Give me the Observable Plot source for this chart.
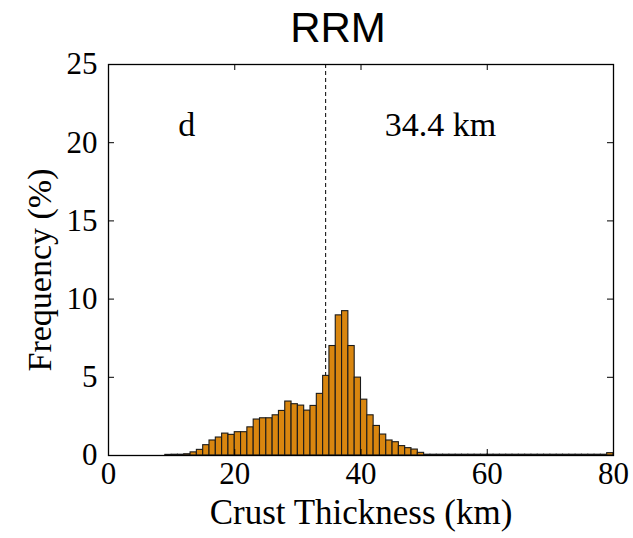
<!DOCTYPE html>
<html>
<head>
<meta charset="utf-8">
<script src="https://cdn.jsdelivr.net/npm/d3@7"></script>
<script src="https://cdn.jsdelivr.net/npm/@observablehq/plot@0.6"></script>
<style>
  html, body { margin: 0; padding: 0; background: #fff; }
  #wrap { position: relative; width: 633px; height: 538px; }
  #title { position: absolute; top: 3px; left: 0; width: 633px; padding-left: 43px; box-sizing: border-box;
           text-align: center; font-family: "Liberation Sans", Arial, sans-serif; font-size: 42px; color: #000; line-height: 50px; }
</style>
</head>
<body>
<div id="wrap"><div id="title">RRM</div></div>
<script>
// Bin left edges (km), bin width 1 km
const thickness = [9,10,11,12,13,14,15,16,17,18,19,20,21,22,23,24,25,26,27,28,29,30,31,32,33,34,35,36,37,38,39,40,41,42,43,44,45,46,47,48,49,50,51,52,53,54,55,56,57,58,59,60,61,62,63,64,65,66,67,68,69,70,71,72,73,74,75,76,77,78,79];
const frequency = [0.04,0.05,0.05,0.08,0.2,0.36,0.66,0.96,1.15,1.4,1.32,1.49,1.49,1.8,2.3,2.38,2.38,2.57,2.85,3.45,3.28,3.19,2.87,3.17,3.94,5.09,7.0,8.96,9.23,7.0,4.98,3.57,2.57,1.89,1.34,0.96,0.85,0.6,0.47,0.38,0.17,0.05,0.05,0.05,0.05,0.05,0.05,0.05,0.05,0.05,0.05,0.05,0.05,0.05,0.05,0.05,0.05,0.05,0.05,0.05,0.05,0.05,0.05,0.05,0.05,0.05,0.05,0.05,0.05,0.05,0.15];
const xTicks = [0,20,40,60,80];
const yTicks = [0,5,10,15,20,25];
const xInner = [20,40,60];
const yInner = [5,10,15,20];
const meanThickness = 34.4;
const panelLabel = "d";
const meanLabel = "34.4 km";
const xLabel = "Crust Thickness (km)";
const yLabel = "Frequency (%)";

const bins = thickness.map((t, i) => ({x1: t, x2: t + 1, y: frequency[i]}));

const W = 633, H = 538, mT = 64, mB = 83, mL = 108, mR = 20;
const fh = H - mT - mB, fw = W - mL - mR;
const tk = 6;

const chart = Plot.plot({
  width: W, height: H,
  marginTop: mT, marginBottom: mB, marginLeft: mL, marginRight: mR,
  style: {fontFamily: '"Liberation Serif", "Times New Roman", serif', fontSize: "31px", color: "#000", background: "#fff"},
  x: {domain: [0, 80], ticks: xTicks, label: null},
  y: {domain: [0, 25], ticks: yTicks, label: null},
  marks: [
    Plot.ruleX([meanThickness], {stroke: "#000", strokeWidth: 1, strokeDasharray: "4,3"}),
    Plot.rectY(bins, {x1: "x1", x2: "x2", y: "y", fill: "#D9860F", stroke: "#1a1a1a", strokeWidth: 1.1}),
    Plot.tickX(xInner, {x: d => d, insetTop: fh - tk, stroke: "#000"}),
    Plot.tickX(xInner, {x: d => d, insetBottom: fh - tk, stroke: "#000"}),
    Plot.tickY(yInner, {y: d => d, insetRight: fw - tk, stroke: "#000"}),
    Plot.tickY(yInner, {y: d => d, insetLeft: fw - tk, stroke: "#000"}),
    Plot.frame({stroke: "#000", strokeWidth: 1.3}),
    Plot.axisX(xTicks, {anchor: "bottom", tickSize: 0, tickPadding: 6, fontSize: 31, label: null}),
    Plot.axisY(yTicks, {anchor: "left", tickSize: 0, tickPadding: 11, fontSize: 31, label: null}),
    Plot.text([panelLabel], {x: 12.4, y: 21.1, text: d => d, fontSize: 34}),
    Plot.text([meanLabel], {x: 52.6, y: 21.1, text: d => d, fontSize: 34}),
    Plot.text([xLabel], {frameAnchor: "bottom", dy: 68, text: d => d, fontSize: 35}),
    Plot.text([yLabel], {frameAnchor: "left", textAnchor: "middle", dx: -68, dy: 10, rotate: -90, text: d => d, fontSize: 34})
  ]
});
document.getElementById("wrap").appendChild(chart);
</script>
</body>
</html>
